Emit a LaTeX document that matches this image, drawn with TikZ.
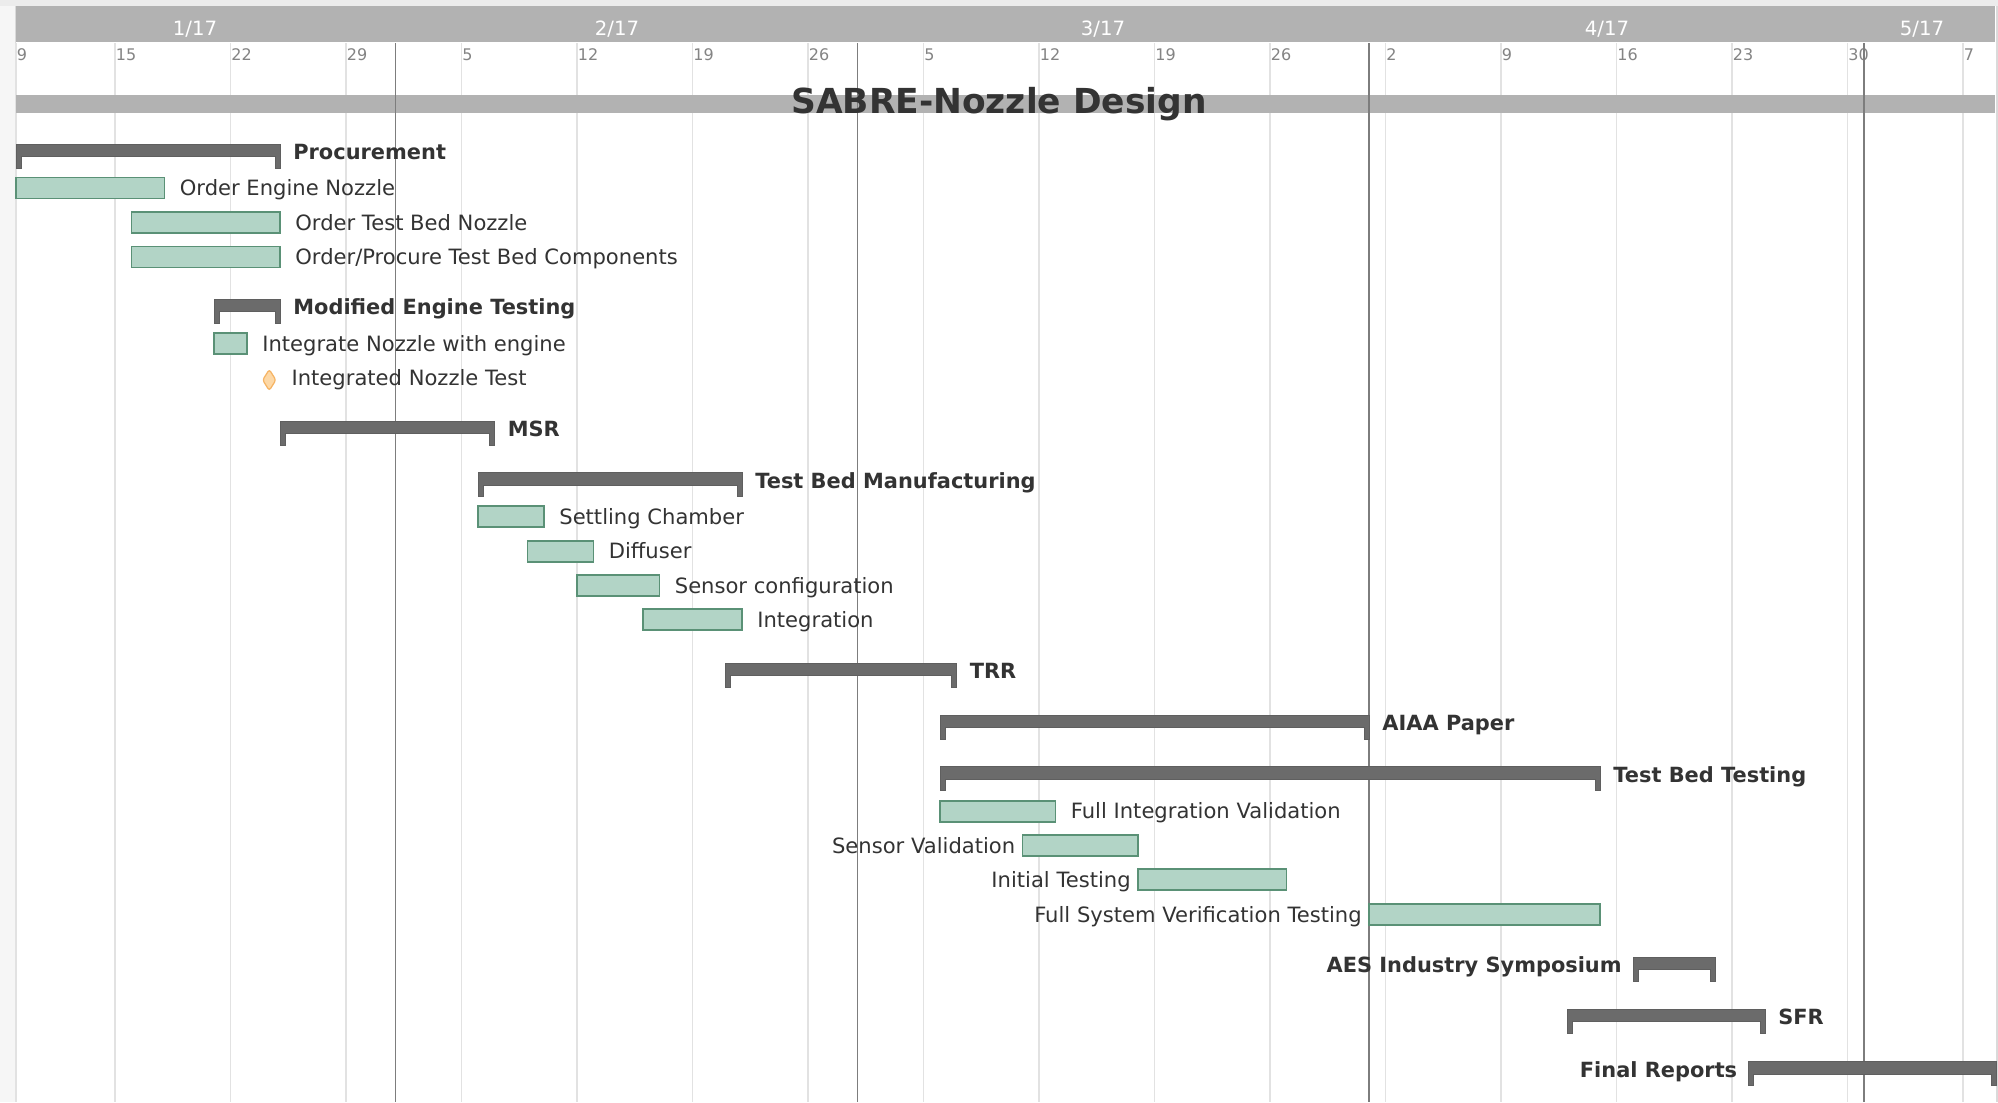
\documentclass[tikz,border=0pt]{standalone}
\usepackage{fontspec}
\setmainfont{DejaVu Sans}

\definecolor{hdrgray}{RGB}{178,178,178}
\definecolor{edgefill}{RGB}{236,236,236}
\definecolor{sidefill}{RGB}{246,246,246}
\definecolor{borderline}{RGB}{218,218,218}
\definecolor{gridgray}{RGB}{226,226,226}
\definecolor{monthgray}{RGB}{125,125,125}
\definecolor{daytext}{RGB}{132,132,132}
\definecolor{sumfill}{RGB}{107,107,107}
\definecolor{sumedge}{RGB}{95,95,95}
\definecolor{taskfill}{RGB}{178,212,198}
\definecolor{taskedge}{RGB}{90,145,118}
\definecolor{msfill}{RGB}{253,216,166}
\definecolor{msedge}{RGB}{246,180,100}
\definecolor{labeltext}{RGB}{51,51,51}

% summary bracket: start day, end day, top
\newcommand{\sumbar}[3]{%
  \draw[summary] (#1,#3) -- (#2,#3) -- (#2,#3+24) -- (#2-0.3,#3+24) -- (#2-0.3,#3+12.5)
    -- (#1+0.3,#3+12.5) -- (#1+0.3,#3+24) -- (#1,#3+24) -- cycle;}
% task bar: start day, end day, top
\newcommand{\taskbar}[3]{\draw[task] (#1,#3) rectangle (#2,#3+21);}

\begin{document}
\begin{tikzpicture}[x=0.2mm, y=-0.2mm,
    daygrid/.style={gridgray, line width=0.26mm},
    monthgrid/.style={monthgray, line width=0.26mm},
    daylabel/.style={anchor=base west, inner sep=0pt, text=daytext, font=\fontsize{9.1}{10}\selectfont},
    monthlabel/.style={anchor=base, inner sep=0pt, text=white, font=\fontsize{11.2}{13}\selectfont},
    summary/.style={fill=sumfill, draw=sumedge, line width=0.15mm},
    task/.style={fill=taskfill, draw=taskedge, line width=0.35mm},
    tasklabel/.style={inner sep=0pt, text=labeltext, font=\fontsize{12}{14}\selectfont},
    sumlabel/.style={inner sep=0pt, text=labeltext, font=\bfseries\fontsize{11.9}{14}\selectfont}]

    \useasboundingbox (0,0) rectangle (1998,1102);
    \fill[white] (0,0) rectangle (1998,1102);
    \fill[edgefill] (0,0) rectangle (1998,6);
    \fill[sidefill] (0,6) rectangle (15,1102);
    \draw[borderline, line width=0.3mm] (15.5,6) -- (15.5,1102);
    \draw[borderline, line width=0.4mm] (1996.5,6) -- (1996.5,1102);

    % month header
    \fill[hdrgray] (16,6) rectangle (1995,42);
    \node[monthlabel] (jan) at (195,35) {1/17};
    \node[monthlabel] (feb) at (617,35) {2/17};
    \node[monthlabel] (mar) at (1103,35) {3/17};
    \node[monthlabel] (apr) at (1607,35) {4/17};
    \node[monthlabel] (may) at (1922,35) {5/17};

    % week lines, day 0 is the 9th of January
    \begin{scope}[xshift=3.2mm, x=3.3mm]
        \foreach \d/\lbl in {0/9, 6/15, 13/22, 20/29, 27/5, 34/12, 41/19, 48/26, 55/5,
                62/12, 69/19, 76/26, 83/2, 90/9, 97/16, 104/23, 111/30, 118/7} {
            \draw[daygrid] (\d,43) -- (\d,1102);
            \node[daylabel, xshift=0.1mm] (day-\d) at (\d,60) {\lbl};
        }
    \end{scope}

    % title band
    \fill[hdrgray] (16,95) rectangle (1995,113.3);

    \begin{scope}[xshift=3.2mm, x=3.3mm]
        % month boundaries
        \foreach \d in {23, 51, 82, 112}
            \draw[monthgrid] (\d,43) -- (\d,1102);

        % Procurement
        \sumbar{0}{16}{144}
        \node[sumlabel, anchor=base west, xshift=2.6mm] (proc) at (16,159.5) {Procurement};
        \taskbar{0}{9}{177.5}
        \node[tasklabel, anchor=base west, xshift=3mm] (ordEngine) at (9,195.5) {Order Engine Nozzle};
        \taskbar{7}{16}{212}
        \node[tasklabel, anchor=base west, xshift=3mm] (ordNozzle) at (16,230) {Order Test Bed Nozzle};
        \taskbar{7}{16}{246.5}
        \node[tasklabel, anchor=base west, xshift=3mm] (ordParts) at (16,264.5) {Order/Procure Test Bed Components};

        % Modified Engine Testing
        \sumbar{12}{16}{299.3}
        \node[sumlabel, anchor=base west, xshift=2.6mm] (modEng) at (16,314.8) {Modified Engine Testing};
        \taskbar{12}{14}{333}
        \node[tasklabel, anchor=base west, xshift=3mm] (integNozzle) at (14,351) {Integrate Nozzle with engine};
        \draw[fill=msfill, draw=msedge, line width=0.25mm, rounded corners=0.5mm]
            (15.35,369.5) -- (15.75,380) -- (15.35,390.5) -- (14.95,380) -- cycle;
        \node[tasklabel, anchor=base west, xshift=4.4mm] (nozzleTest) at (15.35,385.5) {Integrated Nozzle Test};

        % MSR
        \sumbar{16}{29}{421}
        \node[sumlabel, anchor=base west, xshift=2.6mm] (msr) at (29,436.5) {MSR};

        % Test Bed Manufacturing
        \sumbar{28}{44}{472.7}
        \node[sumlabel, anchor=base west, xshift=2.6mm] (tbMfg) at (44,488.2) {Test Bed Manufacturing};
        \taskbar{28}{32}{506}
        \node[tasklabel, anchor=base west, xshift=3mm] (settling) at (32,524) {Settling Chamber};
        \taskbar{31}{35}{540.7}
        \node[tasklabel, anchor=base west, xshift=3mm] (diffuser) at (35,558.7) {Diffuser};
        \taskbar{34}{39}{575}
        \node[tasklabel, anchor=base west, xshift=3mm] (sensorCfg) at (39,593) {Sensor configuration};
        \taskbar{38}{44}{609.3}
        \node[tasklabel, anchor=base west, xshift=3mm] (integration) at (44,627.3) {Integration};

        % TRR
        \sumbar{43}{57}{663.3}
        \node[sumlabel, anchor=base west, xshift=2.6mm] (trr) at (57,678.8) {TRR};

        % AIAA Paper
        \sumbar{56}{82}{715}
        \node[sumlabel, anchor=base west, xshift=2.6mm] (aiaa) at (82,730.5) {AIAA Paper};

        % Test Bed Testing
        \sumbar{56}{96}{766.7}
        \node[sumlabel, anchor=base west, xshift=2.6mm] (tbTest) at (96,782.2) {Test Bed Testing};
        \taskbar{56}{63}{800.7}
        \node[tasklabel, anchor=base west, xshift=3mm] (fullInteg) at (63,818.7) {Full Integration Validation};
        \taskbar{61}{68}{835}
        \node[tasklabel, anchor=base east, xshift=-1.4mm] (sensorVal) at (61,853) {Sensor Validation};
        \taskbar{68}{77}{869.3}
        \node[tasklabel, anchor=base east, xshift=-1.4mm] (initTest) at (68,887.3) {Initial Testing};
        \taskbar{82}{96}{904}
        \node[tasklabel, anchor=base east, xshift=-1.4mm] (fullSys) at (82,922) {Full System Verification Testing};

        % AES Industry Symposium
        \sumbar{98}{103}{957.3}
        \node[sumlabel, anchor=base east, xshift=-2.2mm] (aes) at (98,972.8) {AES Industry Symposium};

        % SFR
        \sumbar{94}{106}{1009}
        \node[sumlabel, anchor=base west, xshift=2.6mm] (sfr) at (106,1024.5) {SFR};

        % Final Reports
        \sumbar{105}{120}{1061.7}
        \node[sumlabel, anchor=base east, xshift=-2.2mm] (finalRep) at (105,1077.2) {Final Reports};
    \end{scope}

    \node[anchor=base, inner sep=0pt, text=labeltext, font=\bfseries\fontsize{19.6}{22}\selectfont] (title) at (999,113) {SABRE-Nozzle Design};

\end{tikzpicture}
\end{document}
